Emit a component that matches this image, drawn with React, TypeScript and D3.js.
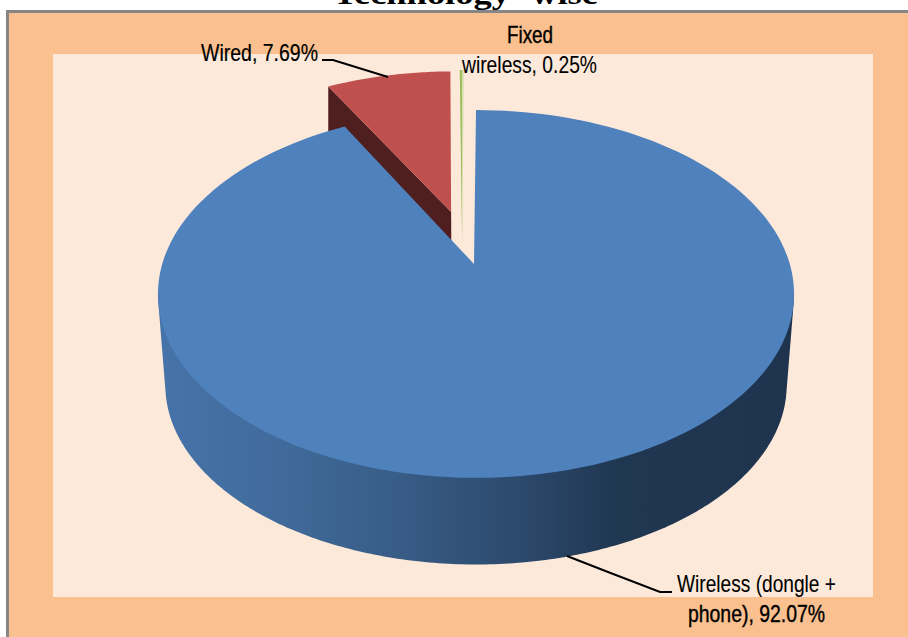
import React from "react";
import * as d3 from "d3";

const categories = ["Wireless (dongle + phone)", "Wired", "Fixed wireless"];
const shares = [92.07, 7.69, 0.25];
const sliceColors = ["#4f81bd", "#c0504d", "#9bbb59"];
const titleText = "Technology -wise";

const W = 908;
const H = 637;
const K = 0.163; // perspective strength of the tilted disc

// screen scales: pie-plane coordinates after perspective -> pixels
const xTop = d3.scaleLinear().domain([-1, 1]).range([476 - 313.8, 476 + 313.8]);
const yTop = d3.scaleLinear().domain([-1, 1]).range([264 - 179, 264 + 179]);
const xBot = d3.scaleLinear().domain([-1, 1]).range([476 - 306.5, 476 + 306.5]);
const yBot = d3.scaleLinear().domain([-1, 1]).range([356 - 174.5, 356 + 174.5]);

type Pt = [number, number];
const project = (u: number, v: number, bottom = false): Pt => {
  const w = 1 - K * v;
  const X = u / w;
  const Y = v / w;
  return bottom ? [xBot(X), yBot(Y)] : [xTop(X), yTop(Y)];
};
const onDisc = (a: number, ox = 0, oy = 0, bottom = false): Pt =>
  project(Math.sin(a) + ox, -Math.cos(a) + oy, bottom);

const pie = d3.pie<number>().sort(null).startAngle(0).endAngle(2 * Math.PI);
const arcs = pie(shares);
const lineGen = d3.line<Pt>();
const steps = (a0: number, a1: number, n = 160) =>
  d3.range(n + 1).map((i) => a0 + ((a1 - a0) * i) / n);

const path = (pts: Pt[]) => lineGen(pts) + "Z";

// blue slice; its narrow edge sits slightly left of the disc centre
const blue = arcs[0];
const blueApex: Pt = [project(0, 0)[0] - 2, project(0, 0)[1]];
const blueTop = path([blueApex, ...steps(blue.startAngle, blue.endAngle).map((a) => onDisc(a))]);
const tangent = Math.acos(-K);
const frontAngles = steps(tangent, 2 * Math.PI - tangent, 220);
const blueSide = path(
  d3.polygonHull([
    ...frontAngles.map((a) => onDisc(a)),
    ...frontAngles.map((a) => onDisc(a, 0, 0, true)),
  ]) as Pt[],
);

// exploded red slice
const red = arcs[1];
const EXPLODE = 0.3155;
const redMid = (red.startAngle + red.endAngle) / 2;
const rx = Math.sin(redMid) * EXPLODE - 0.003;
const ry = -Math.cos(redMid) * EXPLODE;
const redTop = path([project(rx, ry), ...steps(red.startAngle, red.endAngle, 40).map((a) => onDisc(a, rx, ry))]);
const redFace = path([
  project(rx, ry),
  onDisc(red.startAngle, rx, ry),
  [onDisc(red.startAngle, rx, ry)[0], onDisc(red.startAngle, rx, ry, true)[1]],
  project(rx, ry, true),
]);

// exploded green sliver: pale side face behind a narrower lit face
const green = arcs[2];
const gx = -0.047;
const gy = -0.316;
const greenApex = project(-0.045, -0.12);
const greenMid = (green.startAngle + green.endAngle) / 2;
const greenFace = path([greenApex, ...steps(green.startAngle, green.endAngle, 6).map((a) => onDisc(a, gx, gy))]);
const greenTop = path([greenApex, ...steps(green.startAngle, greenMid, 6).map((a) => onDisc(a, gx, gy))]);

const sideStops: [number, string][] = [
  [0, "#4673a9"],
  [0.2, "#406a9a"],
  [0.4, "#365a83"],
  [0.55, "#2d4b6e"],
  [0.72, "#203752"],
  [1, "#1e334e"],
];

const labelFont = "'Liberation Sans', sans-serif";
const labels = [
  { t: "Fixed", x: 507, y: 43, w: 46, s: 0.4 },
  { t: "wireless, 0.25%", x: 462, y: 73, w: 135, s: 0.1 },
  { t: "Wired, 7.69%", x: 201, y: 61, w: 117, s: 0.2 },
  { t: "Wireless (dongle +", x: 677, y: 592, w: 159, s: 0.1 },
  { t: "phone), 92.07%", x: 688, y: 622, w: 137, s: 0.4 },
];
const leaders: Pt[][] = [
  [[322, 60], [333, 60], [388, 77]],
  [[567, 556], [608, 572], [660, 592], [672, 592]],
];

export default function App() {
  return (
    <svg
      width={W}
      height={H}
      viewBox={`0 0 ${W} ${H}`}
      style={{ position: "absolute", left: 0, top: 0, background: "#fff" }}
      role="img"
      aria-label={categories.join(", ")}
    >
      <defs>
        <linearGradient id="side" gradientUnits="userSpaceOnUse" x1={160} x2={795} y1={0} y2={0}>
          {sideStops.map(([o, c]) => (
            <stop key={o} offset={o} stopColor={c} />
          ))}
        </linearGradient>
      </defs>
      <rect x={6} y={10} width={W - 6} height={H - 10} fill="#868686" />
      <rect x={9} y={13} width={W - 9} height={H - 13} fill="#fbc08f" />
      <rect x={53} y={54} width={820} height={543} fill="#fde9da" />
      <text
        x={333}
        y={4}
        textLength={265}
        lengthAdjust="spacingAndGlyphs"
        fontFamily="'Liberation Serif', serif"
        fontWeight="bold"
        fontSize={30}
        fill="#000"
      >
        {titleText}
      </text>

      <path d={redFace} fill="#4f1f1f" />
      <path d={redTop} fill={sliceColors[1]} />
      <path d={greenFace} fill="#d5dfae" />
      <path d={greenTop} fill={sliceColors[2]} />
      <path d={blueSide} fill="url(#side)" />
      <path d={blueTop} fill={sliceColors[0]} />

      {leaders.map((pts, i) => (
        <path key={i} d={lineGen(pts) ?? ""} fill="none" stroke="#000" strokeWidth={2} />
      ))}
      {labels.map((l) => (
        <text
          key={l.t}
          x={l.x}
          y={l.y}
          textLength={l.w}
          lengthAdjust="spacingAndGlyphs"
          fontFamily={labelFont}
          fontSize={24}
          fill="#000"
          stroke="#000"
          strokeWidth={l.s}
        >
          {l.t}
        </text>
      ))}
    </svg>
  );
}
